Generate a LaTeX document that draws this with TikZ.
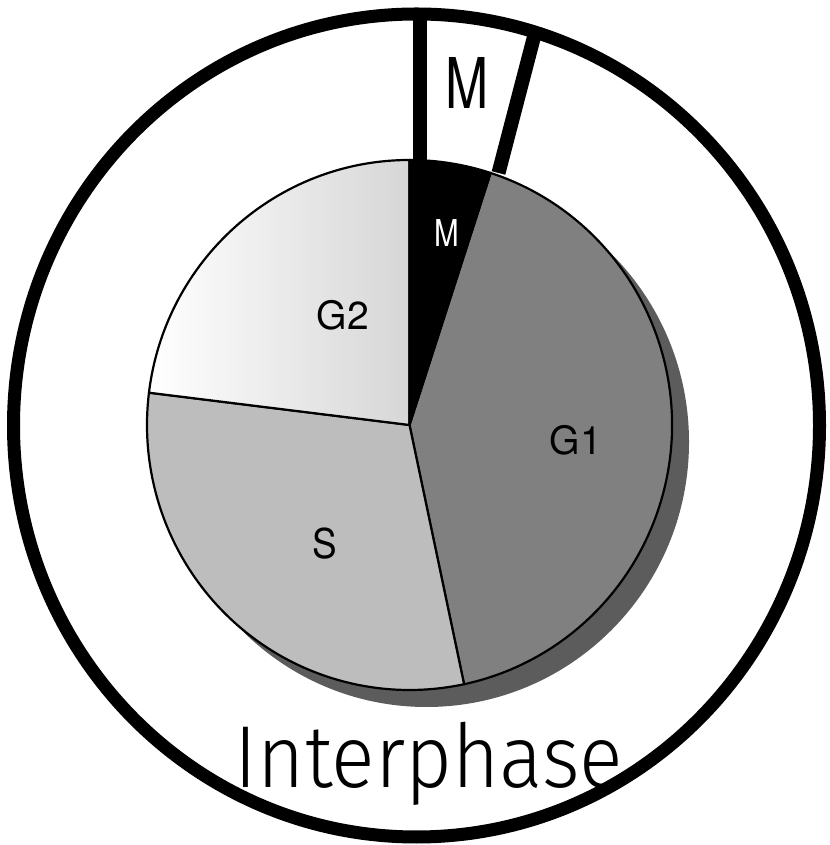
\documentclass[tikz,border=0pt]{standalone}
\usepackage{fontspec}
\setmainfont{TeX Gyre Heros}
\newfontfamily\lightfont{Fira Sans Light}
\tikzset{
  ringline/.style={line width=13pt},
  mline/.style={line width=14pt},
  sector/.style={draw=black, line width=2.2pt, line join=round},
  lbl/.style={inner sep=0pt, font=\fontsize{39}{42}\selectfont},
}
\begin{document}
\begin{tikzpicture}[x=1pt,y=1pt]
\useasboundingbox (0,0) rectangle (829,845);
% outer ring
\coordinate (O) at (416.5,419.5);
\draw[ringline] (O) ellipse [x radius=403, y radius=411.5];
% lines bounding the outer M sector
\coordinate (ltop) at (420,829);
\coordinate (lbot) at (420,678);
\coordinate (rtop) at (535.5,814);
\coordinate (rbot) at (498.5,672);
\draw[mline] (ltop) -- (lbot);
\draw[mline] (rtop) -- (rbot);
% pie
\coordinate (C) at (409.5,420);
\coordinate (Cs) at (426.5,403);
\fill[black!64] (Cs) ellipse [x radius=262.5, y radius=265];
\filldraw[sector, fill=black!50] (C) -- ++(72:262.5 and 265)
   arc[start angle=72, end angle=-78, x radius=262.5, y radius=265] -- cycle;
\filldraw[sector, fill=black!26] (C) -- ++(-78:262.5 and 265)
   arc[start angle=-78, end angle=-187, x radius=262.5, y radius=265] -- cycle;
\shadedraw[sector, left color=white, right color=black!16] (C) -- ++(173:262.5 and 265)
   arc[start angle=173, end angle=90, x radius=262.5, y radius=265] -- cycle;
\filldraw[sector, fill=black] (C) -- ++(90:262.5 and 265)
   arc[start angle=90, end angle=72, x radius=262.5, y radius=265] -- cycle;
% labels
\node[lbl] (g2) at (343,530) {G2};
\node[lbl] (g1) at (576,405) {G1};
\node[lbl, font=\fontsize{41}{44}\selectfont, xscale=0.9] (s) at (325,301) {S};
\node[lbl, text=white, font=\fontsize{37}{40}\selectfont, xscale=0.8] (mpie) at (447,612) {M};
\node[lbl, font=\fontsize{70}{72}\selectfont, xscale=0.74] (mout) at (467.5,762) {M};
\node[inner sep=0pt, anchor=base, font=\lightfont\fontsize{88}{90}\selectfont, xscale=0.92] (inter) at (429,57) {Interphase};
\end{tikzpicture}
\end{document}
